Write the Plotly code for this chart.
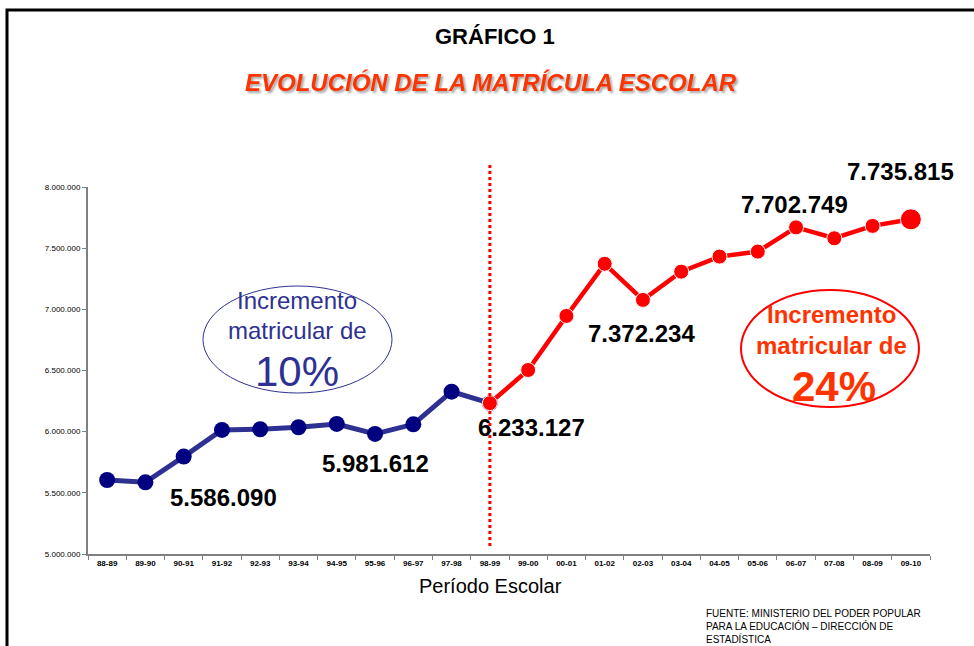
import plotly.graph_objects as go

# ---------------- data ----------------
periodos = ["88-89", "89-90", "90-91", "91-92", "92-93", "93-94", "94-95", "95-96",
            "96-97", "97-98", "98-99", "99-00", "00-01", "01-02", "02-03", "03-04",
            "04-05", "05-06", "06-07", "07-08", "08-09", "09-10"]

periodos_1 = periodos[:11]
matricula_1 = [5605000, 5586090, 5796000, 6014000, 6020000, 6036000, 6063000,
               5981612, 6060000, 6327000, 6233127]

periodos_2 = periodos[10:]
matricula_2 = [6233127, 6504000, 6946000, 7372234, 7077000, 7308000, 7431000,
               7472000, 7670000, 7581000, 7682000, 7735815]

etiquetas = ["5.586.090", "5.981.612", "6.233.127", "7.372.234", "7.702.749", "7.735.815"]

y_ticks = [5000000, 5500000, 6000000, 6500000, 7000000, 7500000, 8000000]

FONT = "Arial, 'Liberation Sans', sans-serif"
W, H = 974, 646
L, R, T, B = 88, 44, 187, 92
PW, PH = W - L - R, H - T - B


def px(x):
    return (x - L) / PW


def py(y):
    return (H - B - y) / PH


fig = go.Figure()

fig.add_trace(go.Scatter(
    x=periodos_1, y=matricula_1, mode="lines+markers",
    line=dict(color="#2E3192", width=5),
    marker=dict(color="#000080", size=16, opacity=1),
    hoverinfo="x+y", showlegend=False))

sizes2 = [15] * (len(matricula_2) - 1) + [21]
fig.add_trace(go.Scatter(
    x=periodos_2, y=matricula_2, mode="lines+markers",
    line=dict(color="#FF0000", width=4.5),
    marker=dict(color="#FF0000", size=sizes2, opacity=1),
    hoverinfo="x+y", showlegend=False))

shapes = []
# frame (left + top)
shapes.append(dict(type="path", xref="paper", yref="paper",
                   path=f"M {px(7)} {py(650)} L {px(7)} {py(10)} L {px(976)} {py(10)}",
                   line=dict(color="black", width=3)))
# dotted separator
shapes.append(dict(type="line", xref="x", yref="paper", x0="98-99", x1="98-99",
                   y0=py(165), y1=py(547), line=dict(color="#FF0000", width=3, dash="dot")))
# ellipses
shapes.append(dict(type="circle", xref="paper", yref="paper",
                   x0=px(203), x1=px(392), y0=py(393), y1=py(286),
                   line=dict(color="#2E3192", width=1)))
shapes.append(dict(type="circle", xref="paper", yref="paper",
                   x0=px(741), x1=px(919), y0=py(407), y1=py(290),
                   line=dict(color="#FF0000", width=2)))

ann = []


def add_text(text, x, y, size, color="black", bold=False, italic=False):
    t = text
    if bold:
        t = f"<b>{t}</b>"
    if italic:
        t = f"<i>{t}</i>"
    ann.append(dict(text=t, x=px(x), y=py(y), xref="paper", yref="paper",
                    showarrow=False, xanchor="center", yanchor="middle",
                    font=dict(family=FONT, size=size, color=color)))


add_text("GRÁFICO 1", 495, 37, 22, bold=True)
add_text("EVOLUCIÓN DE LA MATRÍCULA ESCOLAR", 491, 82, 24, color="#FF3300", bold=True, italic=True)

# ellipse texts
add_text("Incremento", 297, 300, 24, color="#2E3192")
add_text("matricular de", 297, 330, 24, color="#2E3192")
add_text("10%", 297, 371, 42, color="#2E3192")
add_text("Incremento", 831, 314, 24, color="#FF3300", bold=True)
add_text("matricular de", 831, 345, 24, color="#FF3300", bold=True)
add_text("24%", 834, 386, 42, color="#FF3300", bold=True)

# data labels
label_pos = [(223, 497), (375, 463), (531, 427), (641, 333), (794, 205), (900, 171)]
for txt, (lx, ly) in zip(etiquetas, label_pos):
    add_text(txt, lx, ly, 24, bold=True)

# axis title
add_text("Período Escolar", 490, 586, 20)

# source
ann.append(dict(text="FUENTE: MINISTERIO DEL PODER POPULAR<br>PARA LA EDUCACIÓN – DIRECCIÓN DE<br>ESTADÍSTICA",
                x=px(704), y=py(626), xref="paper", yref="paper", showarrow=False,
                xanchor="left", yanchor="middle", align="left",
                font=dict(family=FONT, size=10, color="black")))

fig.update_layout(
    width=W, height=H,
    margin=dict(l=L, r=R, t=T, b=B, pad=0),
    paper_bgcolor="white", plot_bgcolor="white",
    separators=",.",
    shapes=shapes, annotations=ann,
    showlegend=False,
    font=dict(family=FONT),
    xaxis=dict(type="category", categoryorder="array", categoryarray=periodos,
               range=[-0.5, len(periodos) - 0.5], tickson="boundaries",
               showline=True, linecolor="#808080", linewidth=2,
               ticks="outside", ticklen=4, tickcolor="#808080",
               showgrid=False, zeroline=False,
               tickfont=dict(family=FONT, size=8, color="black"),
               tickprefix="<b>", ticksuffix="</b>"),
    yaxis=dict(range=[5000000, 8000000], tickvals=y_ticks, tickformat=",d",
               showline=True, linecolor="#808080", linewidth=2,
               ticks="outside", ticklen=4, tickcolor="#808080",
               showgrid=False, zeroline=False,
               tickfont=dict(family=FONT, size=8, color="black"),
               tickprefix="<b>", ticksuffix="</b>"),
)

post = """
document.body.style.margin='0';document.body.style.padding='0';
document.querySelectorAll('.annotation-text').forEach(function(t){
  if (t.textContent.indexOf('EVOLUCI') === 0) {
    t.style.filter = 'drop-shadow(2px 2px 1px rgba(0,0,0,0.35))';
  }
});
"""

fig.write_html("out.html", config={"displayModeBar": False}, post_script=post)
